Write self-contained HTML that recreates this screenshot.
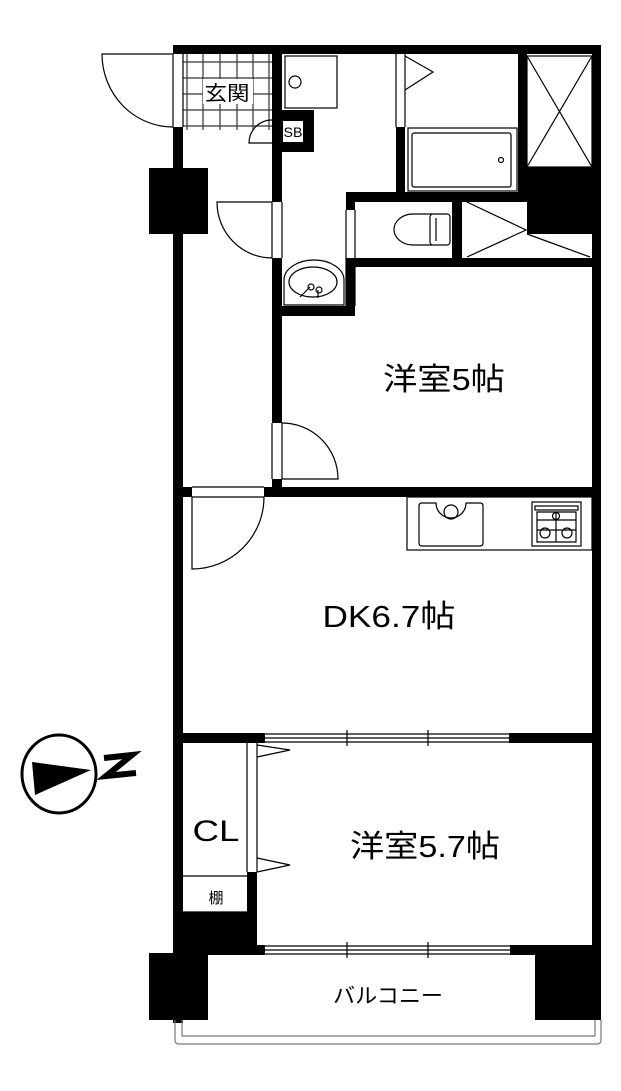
<!DOCTYPE html>
<html><head><meta charset="utf-8"><style>
html,body{margin:0;padding:0;background:#fff;}
svg{display:block;}
text{font-family:"Liberation Sans","Noto Sans CJK JP",sans-serif;fill:#000;}
</style></head><body>
<svg width="621" height="1091" viewBox="0 0 621 1091" xmlns="http://www.w3.org/2000/svg">
<rect width="621" height="1091" fill="#fff"/>
<g stroke="#333" stroke-width="1.2">
<path d="M187 54V130M203 54V130M220 54V130M237 54V130M253 54V130M269 54V130"/>
<path d="M183 62H272M183 78H272M183 94H272M183 110H272M183 126H272"/>
</g>
<rect x="203" y="79" width="50" height="25" fill="#fff"/>
<text x="227" y="100" font-size="20" text-anchor="middle" textLength="45" lengthAdjust="spacingAndGlyphs">玄関</text>
<g fill="#000">
<rect x="173" y="45" width="428" height="9"/>
<rect x="173" y="127" width="10" height="363"/>
<rect x="149" y="168" width="59" height="66"/>
<rect x="272" y="45" width="10" height="157"/>
<rect x="272" y="258" width="10" height="165"/>
<rect x="272" y="479" width="10" height="10"/>
<rect x="272" y="110" width="42" height="42"/>
<rect x="396" y="127" width="9" height="65"/>
<rect x="518" y="45" width="9" height="157"/>
<rect x="527" y="167" width="65" height="67"/>
<rect x="592" y="45" width="9" height="975"/>
<rect x="346" y="192" width="181" height="10"/>
<rect x="346" y="192" width="9" height="18"/>
<rect x="452" y="192" width="10" height="66"/>
<rect x="346" y="258" width="255" height="9"/>
<rect x="346" y="258" width="9" height="58"/>
<rect x="272" y="306" width="83" height="10"/>
<rect x="173" y="487" width="19" height="10"/>
<rect x="264" y="487" width="337" height="10"/>
<rect x="173" y="497" width="10" height="526"/>
<rect x="173" y="733" width="92" height="10"/>
<rect x="509" y="733" width="92" height="10"/>
<rect x="247" y="872" width="10" height="83"/>
<rect x="173" y="912" width="84" height="43"/>
<rect x="257" y="945" width="8" height="10"/>
<rect x="510" y="945" width="91" height="10"/>
<rect x="149" y="953" width="59" height="67"/>
<rect x="535" y="953" width="66" height="67"/>
</g>
<rect x="283" y="121" width="20" height="21" fill="#fff"/>
<text x="293" y="137" font-size="14" text-anchor="middle" textLength="19" lengthAdjust="spacingAndGlyphs">SB</text>
<g fill="none" stroke="#000" stroke-width="1.2">
<path d="M173 54H102A71 73 0 0 0 173 127"/>
<path d="M173 54V127M183 54V127"/>
<path d="M272 143H249A23 23 0 0 1 272 120"/>
<rect x="285" y="56" width="52" height="52"/>
<circle cx="295" cy="82" r="6"/>
<path d="M272 202H217A55 56 0 0 0 272 258"/>
<path d="M272 202V258M282 202V258"/>
<path d="M396 54V127M405 54V127"/>
<path d="M405 56L433 72L405 90"/>
<rect x="408" y="128" width="109" height="63"/>
<rect x="412" y="133" width="99" height="54" rx="2"/>
<circle cx="501" cy="160" r="2.5"/>
<rect x="527" y="56" width="65" height="111"/>
<path d="M527 56L592 167M592 56L527 167"/>
<path d="M467 202L526 230L467 257M527 234L590 257"/>
<path d="M432 214H413A19 15.5 0 0 0 413 245H432"/>
<rect x="430" y="214" width="20" height="31" rx="3"/>
<path d="M436 218V241"/>
<path d="M346 210V306M355 210V306"/>
<path d="M284 305V280A30 20 0 0 1 344 280V305Z"/>
<ellipse cx="313" cy="282" rx="24" ry="15"/>
<path d="M300 297L310 287M318 290V298"/>
<circle cx="311" cy="287" r="3"/><circle cx="319" cy="290" r="3"/>
<path d="M272 423V479M282 423V479"/>
<path d="M282 423A56 56 0 0 1 338 479H282"/>
<path d="M192 487H264M192 497H264"/>
<path d="M192 497V569A72 72 0 0 0 264 497"/>
<rect x="407" y="497" width="185" height="53"/>
<path d="M422 503H436A14 14 0 0 0 466 503H480Q483 503 483 506V543Q483 546 480 546H422Q419 546 419 543V506Q419 503 422 503Z"/>
<circle cx="451" cy="512" r="7"/>
<rect x="532" y="502" width="49" height="44"/>
<rect x="535" y="506" width="43" height="4"/>
<path d="M537 512H576V542H537ZM537 520H576M537 530H576M556 512V542"/>
<circle cx="556" cy="516" r="3.5"/><circle cx="545" cy="533" r="5"/><circle cx="567" cy="533" r="5"/>
<path d="M265 734H509M265 738H509M265 742H509M347 730V746M428 730V746"/>
<path d="M265 946H510M265 950H510M265 954H510M347 942V958M428 942V958"/>
<path d="M247 743V872M257 743V872"/>
<path d="M257 745L290 750L257 757M257 858L290 865L257 872"/>
<path d="M183 876H247M183 912H247"/>
<path d="M175 1020V1040Q175 1044 179 1044H597Q601 1044 601 1040V1020" stroke="#777"/>
<path d="M182 1020V1036H595V1020" stroke="#777"/>
<ellipse cx="59" cy="774" rx="37" ry="39" stroke-width="3"/>
</g>
<polygon points="32,762 91,770 35,795" fill="#000"/>
<path d="M104 758L132 755L106 776L136 773" fill="none" stroke="#000" stroke-width="6"/>
<text x="444" y="390" font-size="31" text-anchor="middle" textLength="122" lengthAdjust="spacingAndGlyphs">洋室5帖</text>
<text x="389" y="627" font-size="31" text-anchor="middle" textLength="133" lengthAdjust="spacingAndGlyphs">DK6.7帖</text>
<text x="216" y="841" font-size="30" text-anchor="middle" textLength="47" lengthAdjust="spacingAndGlyphs">CL</text>
<text x="216" y="903" font-size="15" text-anchor="middle">棚</text>
<text x="425" y="857" font-size="31" text-anchor="middle" textLength="150" lengthAdjust="spacingAndGlyphs">洋室5.7帖</text>
<text x="388" y="1003" font-size="21" text-anchor="middle" textLength="110" lengthAdjust="spacingAndGlyphs">バルコニー</text>
</svg>
</body></html>
